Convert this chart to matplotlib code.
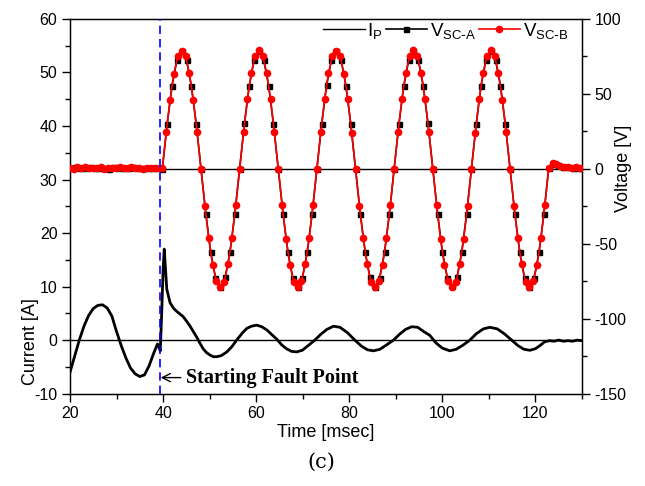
import numpy as np
import matplotlib.pyplot as plt
from matplotlib.ticker import MultipleLocator
from matplotlib.lines import Line2D

plt.rcParams['font.family'] = ['Liberation Sans', 'DejaVu Sans']
plt.rcParams['mathtext.default'] = 'regular'
plt.rcParams['axes.unicode_minus'] = False

# fault current I_P [A]
t_i = [20, 21, 22, 23, 24, 25, 26, 27, 28, 29, 30, 31, 32, 33, 34, 35, 36, 37, 38,
       38.8, 39.1, 39.4, 39.7, 40.0, 40.25, 40.5, 40.8, 41.5, 42.2, 42.9, 43.6, 44.3,
       45.0, 45.8, 46.5, 47.2, 48.0, 48.6, 49.3, 50.1, 50.8, 51.5, 52.5, 53.7, 54.8,
       55.8, 57.0, 58.0, 59.0, 60.1, 61.2, 62.3, 63.4, 64.4, 65.5, 66.5, 67.6, 68.7,
       69.9, 71.2, 72.6, 73.9, 75.2, 76.6, 78.0, 79.6, 81.2, 82.6, 83.9, 85.2, 86.6,
       88.0, 89.5, 90.8, 92.1, 93.4, 94.7, 96.0, 97.3, 98.6, 100.0, 101.6, 103.0,
       104.5, 105.9, 107.3, 108.8, 110.2, 111.8, 113.3, 114.9, 116.2, 117.5, 118.8,
       120.0, 121.0, 122.0, 123, 124, 125, 126, 127, 128, 129, 130]
i_p = [-6.0, -3.0, 0.0, 2.6, 4.6, 5.9, 6.5, 6.6, 6.0, 4.5, 1.6, -1.0, -3.3, -5.2,
       -6.3, -6.8, -6.5, -4.8, -2.4,
       -0.7, -1.3, -2.0, 5.0, 13.0, 17.0, 13.5, 9.5, 7.0, 6.0, 5.4, 4.9, 4.4,
       3.6, 2.6, 1.6, 0.6, -0.7, -1.6, -2.3, -2.8, -3.1, -3.1, -2.9, -2.2, -1.2,
       0.0, 1.3, 2.2, 2.6, 2.8, 2.5, 1.9, 1.0, 0.2, -0.9, -1.6, -2.1, -2.2,
       -1.9, -1.0, 0.0, 1.1, 2.0, 2.6, 2.4, 1.4, 0.0, -1.1, -1.8, -2.0, -1.7,
       -0.9, 0.0, 1.1, 2.0, 2.5, 2.4, 1.6, 0.9, -0.5, -1.5, -2.0, -1.7,
       -0.9, 0.0, 1.2, 2.1, 2.4, 2.1, 1.2, 0.0, -1.0, -1.7, -1.9,
       -1.6, -1.0, -0.3, -0.1, -0.2, 0.0, -0.2, -0.1, -0.2, 0.0, -0.1]

# capacitor voltages [V]; sampled from the fault instant at 39.85 ms
t0 = 39.85
t_a = t0 + 1.0375 * np.arange(-19, 87)
v_a = [0.5, 0.9, 0.3, 0.7, 1.0, 0.4, 0.6, 0.8, 0.2, 0.9, 0.5, 0.7, 0.3, 1.0, 0.6, 0.4, 0.8, 0.5, 0.6,
       0.2, 30.0, 55.6, 72.3, 78.4, 72.6, 55.3, 30.2, 0.1, -30.1, -55.4, -72.5, -78.6, -72.4, -55.6, -30.0,
       0.0, 30.3, 55.5, 72.6, 78.7, 72.4, 55.6, 30.0, -0.1, -30.2, -55.5, -72.6, -78.8, -72.5, -55.4, -30.1,
       0.1, 30.1, 55.7, 72.4, 78.5, 72.7, 55.4, 30.1, 0.0, -30.3, -55.6, -72.4, -78.7, -72.6, -55.5, -30.2,
       0.2, 30.2, 55.4, 72.5, 78.8, 72.5, 55.5, 30.3, 0.1, -30.0, -55.7, -72.5, -78.5, -72.3, -55.6, -30.1,
       0.0, 30.1, 55.6, 72.6, 78.6, 72.4, 55.6, 30.0, -0.1, -30.2, -55.4, -72.6, -78.7, -72.5, -55.5, -30.0,
       0.3, 3.3, 2.4, 1.5, 1.0, 0.8, 0.7]

t_b = t0 + 0.83 * np.arange(-24, 109)
v_b = [0.6, 0.2, 0.9, 0.4, 1.1, 0.3, 0.7, 0.5, 1.0, 0.2, 0.8, 0.6, 0.3, 0.9, 0.5, 0.7, 1.0, 0.4, 0.6, 0.2, 0.8, 0.5, 0.3, 0.7,
       0.3, 24.6, 46.2, 63.5, 75.4, 78.6, 75.0, 63.8, 46.0, 24.3, 0.2, -24.5, -46.4, -63.9, -75.0, -78.8, -75.3, -63.6, -46.3, -24.2,
       0.1, 24.3, 46.6, 63.7, 75.2, 79.0, 75.1, 63.9, 46.4, 24.5, -0.1, -24.3, -46.5, -64.0, -75.3, -79.1, -75.0, -63.8, -46.2, -24.4,
       0.0, 24.5, 46.3, 64.0, 75.0, 78.8, 75.3, 63.6, 46.5, 24.2, 0.1, -24.6, -46.2, -63.7, -75.2, -78.9, -75.1, -64.0, -46.4, -24.3,
       0.2, 24.4, 46.5, 63.8, 75.3, 79.2, 75.0, 63.7, 46.3, 24.6, 0.0, -24.4, -46.6, -63.9, -75.0, -78.7, -75.4, -63.5, -46.5, -24.5,
       0.1, 24.2, 46.4, 63.9, 75.1, 79.0, 75.2, 64.0, 46.2, 24.3, -0.2, -24.5, -46.3, -63.8, -75.3, -79.0, -75.0, -63.9, -46.4, -24.3,
       0.4, 3.6, 3.1, 2.2, 1.4, 1.0, 0.7, 0.9, 0.6]

t_fault = 39.3

fig = plt.figure(figsize=(6.45, 4.86), dpi=100)
ax = fig.add_axes([0.1085, 0.19, 0.7938, 0.771])
ax2 = ax.twinx()

ax.axhline(0, color='black', lw=1.0, zorder=1)
ax2.axhline(0, color='black', lw=1.0, zorder=1)

ax.plot(t_i, i_p, color='black', lw=2.0, zorder=3)
l2, = ax2.plot(t_a, v_a, color='black', lw=1.2, marker='s', ms=3.6, zorder=3)
l3, = ax2.plot(t_b, v_b, color='red', lw=1.2, marker='o', ms=4.5, zorder=4)
ax2.axvline(t_fault, color='blue', ls=(0, (5, 3)), lw=1.2, zorder=5)

ax.annotate('Starting Fault Point', xy=(t_fault + 0.2, -7.0), xytext=(45.0, -7.0),
            va='center', ha='left', fontsize=14.5, fontweight='bold',
            family='Liberation Serif',
            arrowprops=dict(arrowstyle='->', lw=1.0, color='black', shrinkA=2, shrinkB=0))

ax.set_xlim(20, 130)
ax.set_ylim(-10, 60)
ax2.set_ylim(-150, 100)
ax.xaxis.set_major_locator(MultipleLocator(20))
ax.xaxis.set_minor_locator(MultipleLocator(10))
ax.yaxis.set_major_locator(MultipleLocator(10))
ax.yaxis.set_minor_locator(MultipleLocator(5))
ax2.yaxis.set_major_locator(MultipleLocator(50))
ax2.yaxis.set_minor_locator(MultipleLocator(25))
for a in (ax, ax2):
    a.tick_params(which='major', direction='out', length=6, width=1, labelsize=11.5, pad=3)
    a.tick_params(which='minor', direction='out', length=3.5, width=1)
for s in ax.spines.values():
    s.set_linewidth(1.0)

ax.set_xlabel('Time [msec]', fontsize=13, labelpad=2)
ax.set_ylabel('Current [A]', fontsize=13)
ax2.set_ylabel('Voltage [V]', fontsize=13)
ax.yaxis.set_label_coords(-0.060, 0.14)
ax2.yaxis.set_label_coords(1.064, 0.60)

l1 = Line2D([], [], color='black', lw=1.0)
ax2.legend([l1, l2, l3], ['$I_P$', r'$V_{SC\text{-}A}$', r'$V_{SC\text{-}B}$'], loc='upper right',
           bbox_to_anchor=(0.985, 1.01),
           ncol=3, frameon=False, fontsize=13.5, handlelength=2.2, handletextpad=0.15,
           columnspacing=0.15, borderaxespad=0.1, borderpad=0.2)

fig.text(0.4975, 0.048, '(c)', ha='center', va='center', fontsize=15, family='DejaVu Serif')

fig.savefig('out.png', dpi=100)
